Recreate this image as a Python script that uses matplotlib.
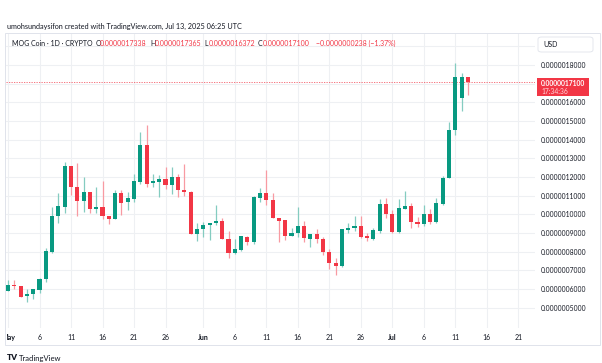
import matplotlib.pyplot as plt
from matplotlib.patches import Rectangle, FancyBboxPatch
from matplotlib.transforms import Bbox, TransformedBbox

plt.rcParams['font.family'] = ['Lato', 'DejaVu Sans']

# daily candles, May 1 - Jul 13 2025, prices in units of 1e-7 USD
opens = [5.91, 6.22, 6.15, 5.64, 5.74, 5.97, 6.52, 8.00, 9.93, 10.41,
         12.57, 11.47, 10.72, 11.20, 10.29, 10.37, 9.93, 9.75, 11.13, 10.65,
         10.81, 11.75, 13.71, 11.66, 11.75, 11.89, 11.57, 11.98, 11.30, 11.18,
         8.95, 9.20, 9.41, 9.52, 9.66, 8.68, 7.95, 8.09, 8.80, 8.54,
         10.89, 11.16, 10.77, 9.81, 9.68, 8.84, 8.99, 9.36, 8.70, 8.93,
         8.66, 7.98, 7.41, 7.25, 9.16, 9.25, 9.38, 8.84, 8.68, 9.11,
         10.54, 10.04, 9.04, 10.29, 10.46, 9.61, 9.48, 10.02, 9.61, 10.57,
         11.93, 14.52, 16.22, 17.338]
highs = [6.48, 6.48, 6.15, 5.99, 6.00, 6.58, 8.20, 10.38, 11.13, 12.82,
         12.57, 12.77, 12.02, 11.20, 11.47, 11.77, 9.93, 11.29, 11.30, 11.18,
         12.16, 14.40, 14.79, 12.16, 12.09, 12.52, 12.52, 12.16, 12.70, 11.25,
         9.55, 9.59, 9.55, 10.52, 9.79, 9.09, 8.66, 8.85, 8.82, 10.98,
         11.41, 12.38, 11.16, 9.81, 9.68, 9.25, 10.39, 9.64, 8.93, 9.23,
         8.77, 8.16, 7.65, 9.20, 9.52, 9.90, 9.93, 8.99, 9.25, 10.81,
         10.86, 10.22, 10.81, 11.27, 10.62, 9.86, 10.49, 10.29, 10.89, 12.07,
         14.93, 18.09, 17.59, 17.365]
lows = [5.90, 5.99, 5.57, 5.32, 5.47, 5.80, 6.39, 7.95, 9.52, 10.09,
        11.05, 9.93, 10.14, 10.09, 10.06, 9.77, 9.48, 9.75, 9.97, 10.23,
        10.68, 11.63, 11.45, 11.45, 10.95, 11.34, 11.09, 10.95, 11.00, 8.95,
        8.59, 8.80, 8.63, 9.43, 8.66, 7.68, 7.88, 8.05, 8.36, 8.40,
        10.68, 10.50, 9.79, 8.54, 8.61, 8.83, 8.77, 8.54, 8.27, 8.45,
        7.84, 7.07, 6.75, 7.20, 8.98, 9.11, 8.75, 8.57, 8.61, 8.98,
        9.79, 8.98, 8.98, 10.27, 9.29, 9.34, 9.39, 9.47, 9.55, 10.50,
        11.93, 14.25, 15.54, 16.372]
closes = [6.22, 6.15, 5.59, 5.75, 5.99, 6.55, 8.02, 9.93, 10.43, 12.57,
          11.47, 10.72, 11.20, 10.29, 10.37, 9.93, 9.75, 11.13, 10.63, 10.86,
          11.79, 13.71, 11.64, 11.77, 11.89, 11.57, 11.98, 11.30, 11.18, 8.95,
          9.20, 9.41, 9.52, 9.66, 8.66, 7.95, 8.13, 8.83, 8.54, 10.91,
          11.16, 10.77, 9.79, 9.66, 8.86, 8.99, 9.36, 8.72, 8.93, 8.66,
          7.98, 7.41, 7.25, 9.20, 9.29, 9.38, 8.79, 8.72, 9.16, 10.54,
          10.00, 9.04, 10.32, 10.46, 9.57, 9.50, 10.02, 9.61, 10.59, 11.96,
          14.52, 17.34, 17.34, 17.10]

tick_days = [0, 5, 10, 15, 20, 25, 31, 36, 41, 46, 51, 56, 61, 66, 71, 76, 81]
tick_labels = ['May', '6', '11', '16', '21', '26', 'Jun', '6', '11', '16',
               '21', '26', 'Jul', '6', '11', '16', '21']
price_ticks = list(range(5, 20))

W, H = 602, 363
GREEN = '#089981'
RED = '#F23645'
TXT = '#131722'

def fx(px):
    return px / W

def fy(py):
    return 1 - py / H

fig = plt.figure(figsize=(W / 100, H / 100), dpi=100)
ax = fig.add_axes([fx(6), fy(328), fx(535) - fx(6), fy(33) - fy(328)])

days = list(range(len(opens)))
up = [c >= o for o, c in zip(opens, closes)]
body_col = [GREEN if u else RED for u in up]
wick_col = ['#84ccc0' if u else '#f89aa2' for u in up]
bottoms = [min(o, c) for o, c in zip(opens, closes)]
heights = [max(abs(c - o), 0.06) for o, c in zip(opens, closes)]

ax.vlines(days, lows, highs, colors=wick_col, lw=0.9, zorder=2)
ax.bar(days, heights, bottom=bottoms, width=0.64, color=body_col, lw=0, zorder=3)
ax.axhline(closes[-1], color=RED, lw=0.6, ls=(0, (1.5, 1.5)), alpha=0.8, zorder=1)

ax.set_xlim(-0.32, 83.65)
ax.set_ylim(3.91, 19.71)
for s in ax.spines.values():
    s.set_visible(False)

ax.set_xticks(tick_days, tick_labels)
ax.yaxis.tick_right()
ylabels = ['' if v in (17, 19) else f'{v * 1e-7:.10f}' for v in price_ticks]
ax.set_yticks(price_ticks, ylabels)
ax.tick_params(axis='x', length=0, pad=4, labelsize=5, labelcolor=TXT)
ax.tick_params(axis='y', length=0, pad=4.3, labelsize=4.9, labelcolor=TXT)
ax.grid(True, color='#eef0f3', lw=0.8, zorder=0)
ax.set_axisbelow(True)

clip = TransformedBbox(Bbox.from_extents(fx(7), 0, 1, 1), fig.transFigure)
for lbl in ax.get_xticklabels():
    if lbl.get_text() in ('May', 'Jun', 'Jul'):
        lbl.set_fontweight('bold')
    if lbl.get_text() == 'May':
        lbl.set_clip_on(True)
        lbl.set_clip_box(clip)

# frame around chart
fig.add_artist(Rectangle((fx(5), fy(345)), fx(600) - fx(5), fy(33) - fy(345),
                         transform=fig.transFigure, fill=False, ec='#e0e3eb', lw=0.7))

# header
fig.text(fx(7), fy(26), 'umohsundaysifon created with TradingView.com, Jul 13, 2025 06:25 UTC',
         fontsize=5.2, color=TXT, va='center')
row_y = fy(43)
fig.text(fx(11.7), row_y, 'MOG Coin · 1D · CRYPTO', fontsize=5, color=TXT, va='center')
for letter, lx, val in [('O', 95.7, opens[-1]), ('H', 150, highs[-1]),
                        ('L', 204, lows[-1]), ('C', 258, closes[-1])]:
    fig.text(fx(lx), row_y, letter, fontsize=5, color=TXT, va='center')
    fig.text(fx(lx + 4.3), row_y, f'{val * 1e-7:.10f}', fontsize=5, color=RED, va='center')
chg = closes[-1] - opens[-1]
fig.text(fx(316), row_y, f'\u2212{abs(chg) * 1e-7:.10f} (\u2212{abs(chg) / opens[-1] * 100:.2f}%)',
         fontsize=5, color=RED, va='center')

# USD box
fig.add_artist(FancyBboxPatch((fx(538), fy(52)), fx(593) - fx(538), fy(37) - fy(52),
                              boxstyle='round,pad=0,rounding_size=0.006',
                              transform=fig.transFigure, fc='white', ec='#e0e3eb', lw=0.6))
fig.text(fx(543), fy(44.5), 'USD', fontsize=5, color=TXT, va='center')

# last price label
fig.add_artist(Rectangle((fx(537), fy(96)), fx(589) - fx(537), fy(78) - fy(96),
                         transform=fig.transFigure, fc=RED, ec='none', zorder=5))
fig.text(fx(541), fy(83), f'{closes[-1] * 1e-7:.10f}', fontsize=4.9, color='white',
         va='center', fontweight='bold', zorder=6)
fig.text(fx(541), fy(91.5), '17:34:36', fontsize=4.9, color='#ffd6da', va='center', zorder=6)

# footer logo
fig.text(fx(7), fy(358), 'TV', fontsize=6, color=TXT, va='center', fontweight='heavy')
fig.text(fx(19), fy(358), 'TradingView', fontsize=5.5, color=TXT, va='center')

fig.savefig('out.png', dpi=100, facecolor='white')
